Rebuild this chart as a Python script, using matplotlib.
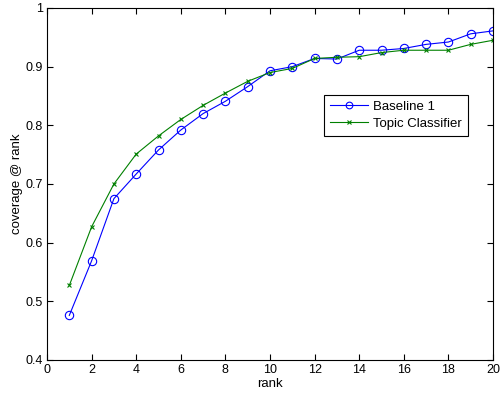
import matplotlib
matplotlib.use("Agg")
import matplotlib.pyplot as plt

plt.rcParams['font.family'] = ['Liberation Sans', 'DejaVu Sans']

rank = list(range(1, 21))
baseline = [0.476, 0.569, 0.675, 0.717, 0.758, 0.792, 0.820, 0.841, 0.866, 0.893,
            0.900, 0.914, 0.913, 0.928, 0.928, 0.931, 0.938, 0.942, 0.956, 0.961]
topic = [0.527, 0.627, 0.700, 0.751, 0.782, 0.810, 0.834, 0.855, 0.875, 0.890,
         0.897, 0.914, 0.916, 0.917, 0.924, 0.928, 0.928, 0.928, 0.938, 0.945]
xticks = [0, 2, 4, 6, 8, 10, 12, 14, 16, 18, 20]
yticks = [0.4, 0.5, 0.6, 0.7, 0.8, 0.9, 1.0]
yticklabels = ['0.4', '0.5', '0.6', '0.7', '0.8', '0.9', '1']

fig = plt.figure(figsize=(5.0, 3.94), dpi=100)
ax = fig.add_axes([0.094, 0.0863, 0.892, 0.8934])
ax.plot(rank, baseline, color='#0000ff', marker='o', markersize=6,
        markerfacecolor='none', markeredgecolor='#0000ff', markeredgewidth=0.8,
        linewidth=0.8, label='Baseline 1')
ax.plot(rank, topic, color='#008000', marker='x', markersize=3.5,
        markeredgecolor='#008000', markeredgewidth=0.8, linewidth=0.8,
        label='Topic Classifier')
ax.set_xlim(0, 20)
ax.set_ylim(0.4, 1.0)
ax.set_xticks(xticks)
ax.set_yticks(yticks)
ax.set_yticklabels(yticklabels)
ax.tick_params(direction='in', top=True, right=True, labelsize=9, length=4, pad=3)
ax.set_xlabel('rank', fontsize=9.5, labelpad=1)
ax.set_ylabel('coverage @ rank', fontsize=9.5, labelpad=2)
for s in ax.spines.values():
    s.set_linewidth(0.8)
leg = ax.legend(loc='upper left', bbox_to_anchor=(0.621, 0.753), fontsize=9.5,
                fancybox=False, framealpha=1, edgecolor='black',
                borderaxespad=0, handlelength=2.9, handletextpad=0.4,
                borderpad=0.45, labelspacing=0.35, markerscale=0.8)
leg.get_frame().set_linewidth(0.8)
fig.savefig('out.png', dpi=100)
